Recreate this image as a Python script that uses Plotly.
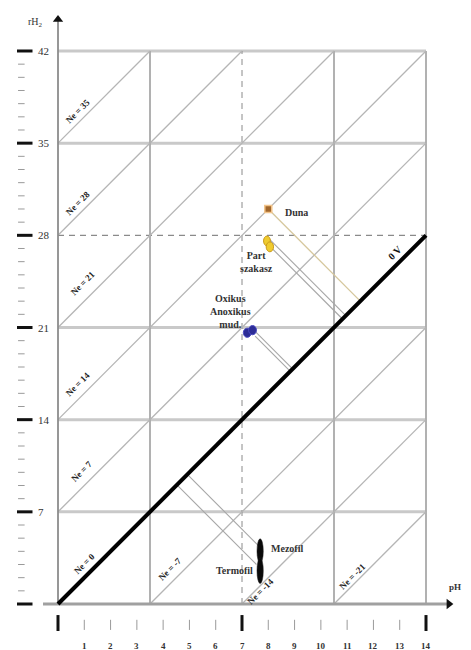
import plotly.graph_objects as go

# ---------------- data ----------------
grid_ph = [0, 3.5, 7, 10.5, 14]
grid_rh = [0, 7, 14, 21, 28, 35, 42]
ne_values = [35, 28, 21, 14, 7, 0, -7, -14, -21]
ne_label_ph = [0.76, 0.76, 0.95, 0.76, 0.91, 0.99, 4.26, 7.72, 11.22]
ne_label_rh = [37.44, 30.46, 24.38, 16.71, 10.10, 3.04, 2.66, 0.99, 2.13]

y_major = [0, 7, 14, 21, 28, 35, 42]
y_major_labels = ["", "7", "14", "21", "28", "35", "42"]
y_minor = [v for v in range(1, 42) if v % 7 != 0]
x_ticks = list(range(0, 15))
x_tick_labels = [""] + [str(v) for v in range(1, 15)]
x_major = [0, 7, 14]

# samples
duna_ph, duna_rh = [8.0], [30.0]
part_ellipses = [(7.82, 8.08, 27.2, 27.95), (7.92, 8.2, 26.75, 27.5)]
oxic_ellipses = [(7.05, 7.35, 20.25, 20.95), (7.25, 7.55, 20.45, 21.15)]
mezo_ellipses = [(7.57, 7.81, 3.1, 4.95), (7.57, 7.81, 1.55, 3.5)]

# start points of projection lines to the 0 V line (rH2 = 2 pH)
duna_proj = [(8.0, 30.0)]
part_proj = [(8.05, 27.7), (8.12, 27.05)]
oxic_proj = [(7.4, 20.9), (7.5, 20.35)]
mezo_proj = [(7.69, 4.3), (7.55, 3.0)]


def to_zero_v(p):
    ph, rh = p
    t = (rh - 2 * ph) / 4.0
    return ph + t, rh - 2 * t


fig = go.Figure()


def line(xs, ys, color, width, dash=None):
    fig.add_trace(go.Scatter(x=xs, y=ys, mode="lines", hoverinfo="skip",
                             line=dict(color=color, width=width, dash=dash),
                             showlegend=False))


# horizontal grid lines
for r in grid_rh[1:]:
    if r == 28:
        line([0, 14], [r, r], "#8a8a8a", 1.2, "6px,5px")
    else:
        line([0, 14], [r, r], "#c9c9c9", 3)
# vertical grid lines
for p in grid_ph[1:]:
    if p == 7:
        line([p, p], [0, 42], "#8a8a8a", 1, "6px,5px")
    else:
        line([p, p], [0, 42], "#a9a9a9", 1.8)

# diagonal lines rH2 = 2 pH + Ne clipped to box
for c in ne_values:
    if c == 0:
        continue
    x0 = max(0, -c / 2)
    x1 = min(14, (42 - c) / 2)
    line([x0, x1], [2 * x0 + c, 2 * x1 + c], "#b5b5b5", 1.3)

# axes
line([-0.57, 14.8], [0, 0], "#a0a0a0", 3)
line([0, 0], [0, 44.3], "#8c8c8c", 1.8)
fig.add_trace(go.Scatter(x=[14.87], y=[0], mode="markers", hoverinfo="skip", showlegend=False,
                         marker=dict(symbol="triangle-right", size=9, color="#111")))
fig.add_trace(go.Scatter(x=[0], y=[44.4], mode="markers", hoverinfo="skip", showlegend=False,
                         marker=dict(symbol="triangle-up", size=9, color="#111")))

# projection lines
for p in duna_proj:
    e = to_zero_v(p)
    line([p[0], e[0]], [p[1], e[1]], "#d6c79c", 1.3)
for group in (part_proj, oxic_proj, mezo_proj):
    for p in group:
        e = to_zero_v(p)
        line([p[0], e[0]], [p[1], e[1]], "#a6a6a6", 1.1)

# 0 V line
line([0, 14], [0, 28], "#000000", 4)

# left ticks
for v in y_minor:
    line([-1.52, -1.27], [v, v], "#9a9a9a", 1)
for v in y_major:
    line([-1.56, -0.97], [v, v], "#111111", 3)
# bottom ticks
for v in x_ticks:
    if v in x_major:
        line([v, v], [-0.84, -2.05], "#111111", 3)
    else:
        line([v, v], [-1.2, -1.97], "#9a9a9a", 1)

# sample markers
fig.add_trace(go.Scatter(x=duna_ph, y=duna_rh, mode="markers", hoverinfo="skip", showlegend=False,
                         marker=dict(symbol="square", size=7, color="#a2672c",
                                     line=dict(color="#f2c48a", width=1.5))))
shapes = []
for (a, b, c, d) in part_ellipses:
    shapes.append(dict(type="circle", xref="x", yref="y", x0=a, x1=b, y0=c, y1=d,
                       fillcolor="#efcb2e", line=dict(color="#c99a1a", width=1)))
for (a, b, c, d) in oxic_ellipses:
    shapes.append(dict(type="circle", xref="x", yref="y", x0=a, x1=b, y0=c, y1=d,
                       fillcolor="#2c2c96", line=dict(color="#4a4ac0", width=1)))
for (a, b, c, d) in mezo_ellipses:
    shapes.append(dict(type="circle", xref="x", yref="y", x0=a, x1=b, y0=c, y1=d,
                       fillcolor="#0a0a0a", line=dict(color="#222", width=0.5)))
fig.update_layout(shapes=shapes)

SERIF = "Liberation Serif, Times New Roman, serif"
ann = []
for c, px, py in zip(ne_values, ne_label_ph, ne_label_rh):
    ann.append(dict(x=px, y=py, text="<b>Ne = %d</b>" % c, showarrow=False, textangle=-45,
                    font=dict(family=SERIF, size=9, color="#222")))
ann.append(dict(x=12.82, y=26.73, text="<b>0 V</b>", showarrow=False, textangle=-45,
                font=dict(family=SERIF, size=10, color="#111")))
for v, t in zip(y_major, y_major_labels):
    if t:
        ann.append(dict(x=-0.82, y=v, text=t, showarrow=False, xanchor="left",
                        font=dict(family=SERIF, size=11, color="#333")))
for v, t in zip(x_ticks, x_tick_labels):
    if t:
        ann.append(dict(x=v, y=-3.19, text="<b>%s</b>" % t, showarrow=False,
                        font=dict(family=SERIF, size=9, color="#333")))
ann.append(dict(x=-0.875, y=44.13, text="rH<sub>2</sub>", showarrow=False,
                font=dict(family=SERIF, size=10, color="#333")))
ann.append(dict(x=15.10, y=1.29, text="<b>pH</b>", showarrow=False,
                font=dict(family=SERIF, size=9, color="#333")))
ann.append(dict(x=8.56, y=29.77, text="<b>Duna</b>", showarrow=False, xanchor="left",
                font=dict(family=SERIF, size=10, color="#333")))
ann.append(dict(x=7.57, y=25.97, text="<b>Part<br>szakasz</b>", showarrow=False,
                font=dict(family=SERIF, size=10, color="#333")))
ann.append(dict(x=6.58, y=22.25, text="<b>Oxikus<br>Anoxikus<br>mud.</b>", showarrow=False,
                font=dict(family=SERIF, size=10, color="#333")))
ann.append(dict(x=8.03, y=4.18, text="<b>Mezofil</b>", showarrow=False, xanchor="left",
                font=dict(family=SERIF, size=10, color="#333")))
ann.append(dict(x=7.49, y=2.51, text="<b>Termofil</b>", showarrow=False, xanchor="right",
                font=dict(family=SERIF, size=10, color="#333")))
fig.update_layout(annotations=ann)

fig.update_layout(
    width=471, height=650, margin=dict(l=0, r=0, t=0, b=0),
    paper_bgcolor="white", plot_bgcolor="white",
    xaxis=dict(range=[-2.2065, 15.712], visible=False, fixedrange=True),
    yaxis=dict(range=[-3.494, 45.873], visible=False, fixedrange=True),
    showlegend=False,
)
fig.write_html("out.html", config={"displayModeBar": False, "staticPlot": True},
               post_script="document.body.style.margin='0px';")
